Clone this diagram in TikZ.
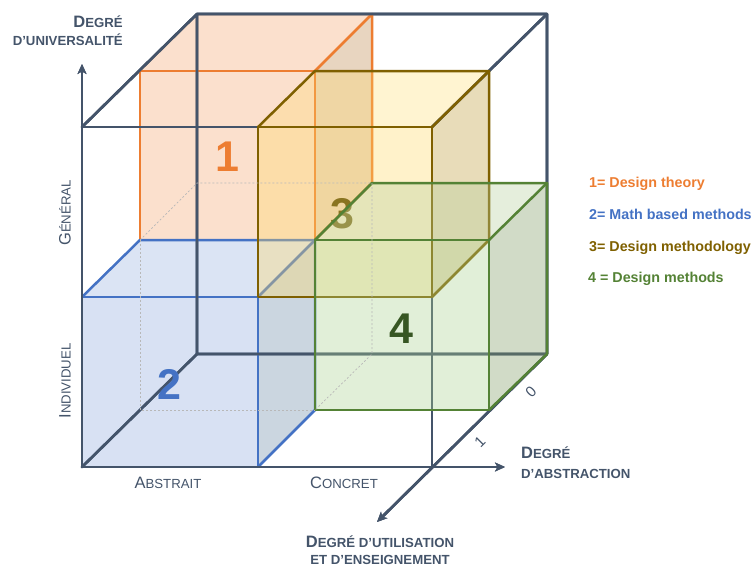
\documentclass[tikz,border=0pt]{standalone}
\usepackage{fontspec}
\setmainfont{Liberation Sans}
\usetikzlibrary{arrows.meta}
\definecolor{slate}{HTML}{44546A}
\definecolor{oline}{HTML}{ED7D31}
\definecolor{bline}{HTML}{4472C4}
\definecolor{gline}{HTML}{7F6000}
\definecolor{vline}{HTML}{548235}
\definecolor{ofill}{RGB}{244,177,131}
\definecolor{oside}{RGB}{198,150,97}
\definecolor{bfill}{RGB}{143,170,220}
\definecolor{bside}{RGB}{106,138,166}
\definecolor{gfill}{RGB}{255,217,102}
\definecolor{gside}{RGB}{189,155,55}
\definecolor{vfill}{RGB}{169,209,142}
\definecolor{vtop}{RGB}{181,206,155}
\definecolor{vside}{RGB}{124,152,95}
\definecolor{threecol}{RGB}{138,116,32}
\definecolor{fourcol}{HTML}{375623}
\newcommand\Cap[1]{{\fontsize{16.5}{19}\selectfont #1}}
\newcommand\Sml[1]{{\fontsize{13.2}{15}\selectfont #1}}
\newcommand\drawcubelines{%
  \draw[cl] (82,127) -- (432,127) -- (432,467);
  \draw[cl] (82,127) -- (197,14) -- (547,14) -- (547,354) -- (197,354) -- (197,14);
  \draw[cl] (547,14) -- (432,127);
  \draw[cl] (O) -- (197,354);
  \draw[ax] (O) -- (Ytip);
  \draw[ax] (O) -- (Xtip);
  \draw[ax] (Zstart) -- (Ztip);
}
\begin{document}
\begin{tikzpicture}[x=1pt,y=-1pt,
  cl/.style={draw=slate,line width=2.7pt,line cap=round,line join=round},
  ax/.style={cl,-{Stealth[length=10pt,width=9pt,inset=2.5pt]}},
  hid/.style={draw=black!28,line width=0.7pt,dash pattern=on 2pt off 2pt},
  lab/.style={inner sep=0pt,text=slate,font=\bfseries},
  labr/.style={inner sep=0pt,text=slate},
  num/.style={inner sep=0pt,font=\fontsize{43}{50}\selectfont\bfseries},
  leg/.style={inner sep=0pt,anchor=base west,font=\fontsize{14.3}{17}\selectfont\bfseries},
  bx/.style={line width=2.5pt,line join=round,line cap=round}]
\useasboundingbox (0,0) rectangle (752,568);
\coordinate (O) at (82,467);
\coordinate (Ytip) at (82,64);
\coordinate (Xtip) at (505,467);
\coordinate (Zstart) at (547,354);
\coordinate (Ztip) at (377,522);

\drawcubelines

% box 1 (orange)
\fill[ofill,fill opacity=.4] (140,71) rectangle (315,240);
\fill[ofill,fill opacity=.4] (140,71) -- (197,14) -- (372,14) -- (315,71) -- cycle;
\fill[oside,fill opacity=.4] (315,71) -- (372,14) -- (372,183) -- (315,240) -- cycle;
\draw[bx,oline] (140,71) rectangle (315,240);
\draw[bx,oline] (315,71) -- (372,14) -- (372,183) -- (315,240);

% box 2 (blue)
\fill[bfill,fill opacity=.35] (82,297) rectangle (258,467);
\fill[bfill,fill opacity=.32] (82,297) -- (140,240) -- (315,240) -- (258,297) -- cycle;
\fill[bside,fill opacity=.35] (258,297) -- (315,240) -- (315,410) -- (258,467) -- cycle;
\draw[bx,bline] (82,297) rectangle (258,467);
\draw[bx,bline] (82,297) -- (140,240) -- (315,240) -- (315,410) -- (258,467);
\draw[bx,bline] (258,297) -- (315,240);

\drawcubelines

\node[num,text=oline] (n1) at (227,157) {1};
\node[num,text=bline] (n2) at (169,384) {2};

% box 3 (gold)
\fill[gfill,fill opacity=.35] (258,127) rectangle (432,297);
\fill[gfill,fill opacity=.3] (258,127) -- (315,71) -- (489,71) -- (432,127) -- cycle;
\fill[gside,fill opacity=.35] (432,127) -- (489,71) -- (489,240) -- (432,297) -- cycle;
\draw[bx,gline] (258,127) rectangle (432,297);
\draw[bx,gline] (258,127) -- (315,71) -- (489,71) -- (489,240) -- (432,297);
\draw[bx,gline] (432,127) -- (489,71);
\node[num,text=threecol] (n3) at (342,214) {3};

% box 4 (green)
\fill[vfill,fill opacity=.35] (315,240) rectangle (489,410);
\fill[vtop,fill opacity=.35] (315,240) -- (372,183) -- (547,183) -- (489,240) -- cycle;
\fill[vside,fill opacity=.35] (489,240) -- (547,183) -- (547,354) -- (489,410) -- cycle;
\draw[bx,vline] (315,240) rectangle (489,410);
\draw[bx,vline] (315,240) -- (372,183) -- (547,183) -- (547,354) -- (489,410);
\draw[bx,vline] (489,240) -- (547,183);
\node[num,text=fourcol] (n4) at (401,329) {4};

% hidden edges
\draw[hid] (140,240) -- (197,183) -- (372,183);
\draw[hid] (140,240) -- (140,410) -- (315,410);
\draw[hid] (372,183) -- (372,354) -- (315,410);

% axis labels
\node[lab,anchor=base east] (du1) at (123,27) {\Cap{D}\Sml{EGRÉ}};
\node[lab,anchor=base east] (du2) at (123,45) {\Sml{D’UNIVERSALITÉ}};
\node[labr,rotate=90] (gen) at (65,213) {\Cap{G}\Sml{ÉNÉRAL}};
\node[labr,rotate=90] (ind) at (65,381) {\Cap{I}\Sml{NDIVIDUEL}};
\node[labr,anchor=base] (abs) at (168,488) {\Cap{A}\Sml{BSTRAIT}};
\node[labr,anchor=base] (con) at (344,488) {\Cap{C}\Sml{ONCRET}};
\node[lab,anchor=base west] (da1) at (521,458) {\Cap{D}\Sml{EGRÉ}};
\node[lab,anchor=base west] (da2) at (521,478) {\Sml{D’ABSTRACTION}};
\node[lab,anchor=base] (de1) at (380,547) {\Cap{D}\Sml{EGRÉ D’UTILISATION}};
\node[lab,anchor=base] (de2) at (380,564) {\Sml{ET D’ENSEIGNEMENT}};
\node[labr,rotate=45,font=\fontsize{15}{17}\selectfont] (z0) at (531,392) {0};
\node[labr,rotate=45,font=\fontsize{15}{17}\selectfont] (z1) at (480,442) {1};

% legend
\node[leg,text=oline] (l1) at (589,187) {1= Design theory};
\node[leg,text=bline] (l2) at (589,219) {2= Math based methods};
\node[leg,text=gline] (l3) at (589,251) {3= Design methodology};
\node[leg,text=vline] (l4) at (588,282) {4 = Design methods};
\end{tikzpicture}
\end{document}
